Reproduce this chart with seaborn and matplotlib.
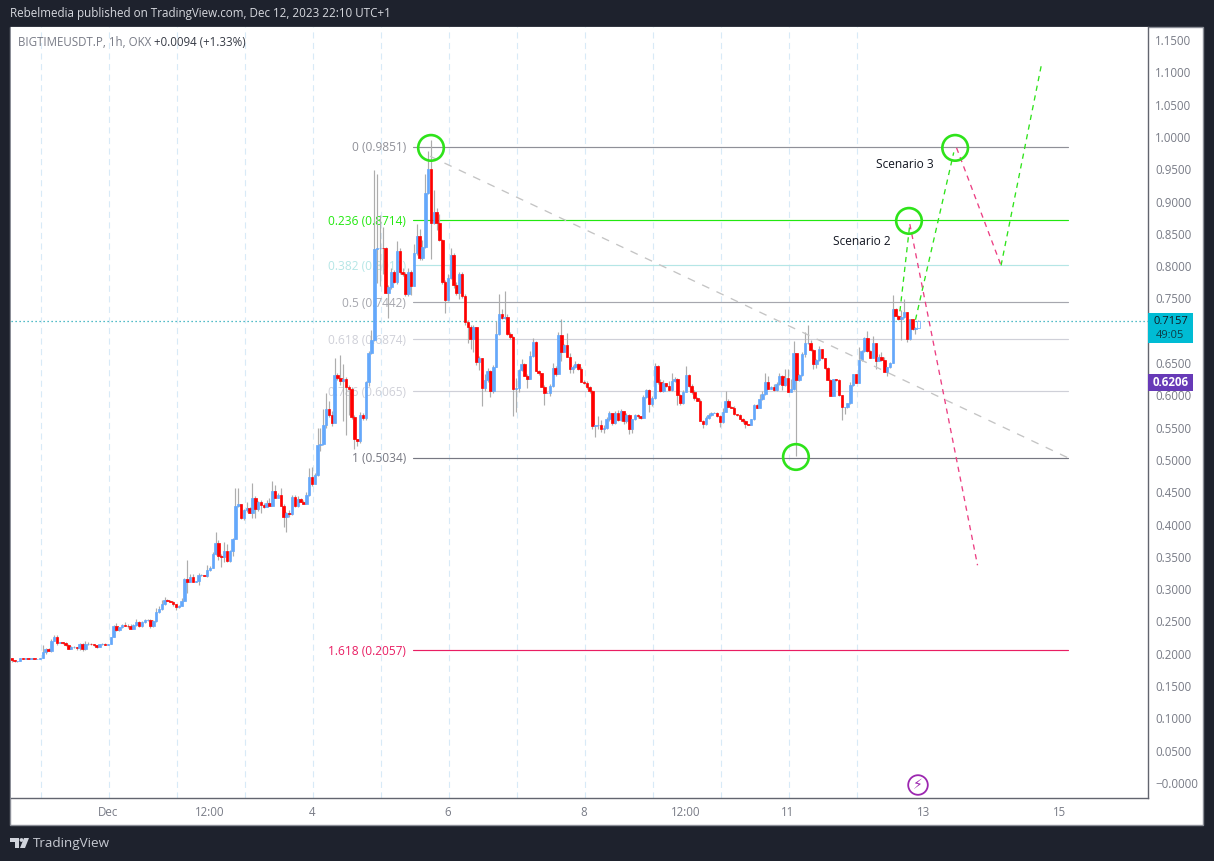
import numpy as np
import pandas as pd
import matplotlib
matplotlib.use("Agg")
import matplotlib.pyplot as plt
from matplotlib.patches import Rectangle, Ellipse, Polygon
import seaborn as sns

# ---- data (hourly candles; hour 0 = Dec 1 00:00) ----
first_hour = -34
first_open = 0.1930
closes_a = [.1909,.1889,.1894,.1930,.1925,.1930,.1925,.1930,.1915,.1920,.1930,
 .2033,.2074,.2043,.2193,.2260,.2172,.2178,.2167,.2136,.2080,.2100,.2100,.2095,.2152,.2074,.2152,.2157,.2147,.2131,.2111,.2147,.2152,.2142,.2147,
 .2255,.2431,.2369,.2410,.2446,.2436,.2425,.2389,.2441,.2492,.2431,.2487,.2523,.2523,.2431,.2503,.2647,.2694,.2766,.2833,.2823,.2807,.2766,.2725,.2745,.2812,.3158,.3117,
 .3189,.3117,.3122,.3215,.3215,.3210,.3297,.3333,.3545,.3715,.3519,.3499,.3592,.3437,.3592,.3777,.4288,.4319,.4107,.4221,.4252,.4185,.4412,.4242,.4350,.4298,.4278,.4335,.4293,.4520,.4417,.4458,.4293,.4118,.4175,.4164,.4427,.4288,.4396,.4355,.4324,.4464,.4737,.4634,.4763,.5232,.5248,.5542,.5790,.5692,.5578]
closes_b = [.6315,.6264,.6217,.6253,.6124,.6094,.5670,.5320,.5299,.5696,.5655,.6202,.6651,.6857,.8266,.8287,.8287,.8281,.7590,.7672,.7915,.7760,.8235,.7915,.7874,.7574,.7915,.7698,.8199,.8467,.8121,.8292,.9128,.9499,.8663,.8833,.8663,.8405,.7760,.7476,.7822,.8173,.7709,.7590,.7879,.7544,.7141,.7064,.6868,.7053,.6522,.6573,.6119,.6238,.6377,.6073,.6444,.6950,.7260,.7193,.7208,.6950,.6909]
closes_c = [.6094,.6115,.6393,.6486,.6306,.6259,.6610,.6832,.6383,.6342,.6135,.6043,.6043,.6146,.6424,.6337,.6935,.6677,.6780,.6600,.6404,.6435,.6486,.6404,.6213,.6187,.6135,.6068,.5532,.5537,.5537,.5485,.5496,.5635,.5723,.5573,.5723,.5619,.5753,.5609,.5697,.5480,.5630,.5697,.5676,.5656,.5975,.6084,.5872,.5955,.6455,.6213,.6068,.6187,.6146,.6084,.6223,.6254,.6006,.5883,.6058,.6316,.6146,.6058,.5965,.5919,.5609,.5558,.5645,.5692,.5733,.5733,.5681,.5588,.5748,.5913,.5826]
closes_d = [.5810,.5707,.5696,.5639,.5603,.5552,.5547,.5629,.5851,.5810,.5939,.6016,.6207,.6104,.6130,.6083,.6171,.6300,.6161,.6264,.6057,.6099,.6651,.6238,.6315,.6641,.6806,.6806,.6702,.6481,.6548,.6713,.6573,.6429,.6243,.5995,.6248,.6238,.6001,.5815,.5815,.5877,.6155,.6326,.6197,.6548,.6682,.6888,.6682,.6584,.6806,.6537,.6589,.6548,.6367,.6434,.6506,.7337,.7234,.7182,.7208,.7285,.6873,.7177,.7027,.7048,.7157]

# wick lengths in thousandths of a price unit
up_a = [0,0,0,1,0,0,0,1,0,0,0,
 11,2,1,3,3,3,1,1,1,2,2,2,1,2,1,4,2,1,1,1,1,1,2,1,
 0,1,4,1,2,4,3,3,2,5,2,2,2,2,2,2,6,5,6,4,1,1,1,1,1,5,1,30,
 4,4,1,4,2,1,8,2,3,17,5,3,14,11,2,2,28,24,0,2,9,2,23,3,2,3,4,5,8,16,10,3,11,2,2,5,3,3,5,2,3,4,14,15,3,26,25,25,25,12,6]
dn_a = [3,1,1,0,0,0,0,0,0,0,0,
 0,3,0,2,0,3,1,1,1,1,1,1,3,3,3,1,1,1,1,2,1,1,1,1,
 0,0,1,2,1,1,2,1,1,1,2,1,1,1,3,1,1,1,1,1,1,1,2,4,2,1,0,17,
 1,1,1,5,1,1,2,2,1,1,6,15,8,2,1,8,0,1,2,3,2,1,9,14,3,12,2,1,1,1,1,1,1,15,24,5,1,1,1,1,1,1,2,4,1,1,9,1,4,3,6]
up_b = [27,3,36,23,3,3,3,3,1,5,3,2,4,15,122,114,50,32,1,4,6,3,16,5,5,3,6,3,15,19,10,11,30,29,45,35,6,15,2,3,5,11,3,5,3,3,3,2,3,3,1,3,1,10,5,1,3,20,31,8,40,5,3]
dn_b = [1,3,5,62,74,40,3,15,8,3,3,3,5,1,1,52,60,40,1,40,3,2,3,3,3,3,3,15,1,3,2,2,1,1,55,1,10,1,3,20,2,2,5,3,10,3,5,25,15,20,5,13,28,5,3,10,3,1,1,1,1,1,3]
up_c = [1,15,2,8,1,3,8,5,1,1,1,3,1,3,8,3,5,25,1,18,5,3,4,1,3,3,3,1,1,1,14,8,5,3,3,1,3,5,4,1,3,1,1,1,2,1,3,1,1,3,5,1,4,5,1,8,12,3,1,1,3,14,1,3,2,1,2,1,4,4,1,1,1,1,6,15,3]
dn_c = [42,35,7,2,1,15,1,1,1,2,1,20,1,5,1,4,1,14,1,1,6,6,1,1,1,1,3,3,6,18,6,6,7,2,3,3,1,1,1,6,3,8,6,1,2,2,1,1,13,3,1,3,2,2,1,1,1,1,15,3,1,1,1,4,3,1,1,7,1,1,1,1,1,8,1,1,1]
up_d = [1,2,1,1,1,1,1,1,1,1,8,5,14,10,1,4,3,5,1,14,15,15,19,1,1,3,17,29,5,1,2,5,1,1,1,1,1,1,1,1,1,1,5,1,1,20,2,1,11,2,11,1,5,8,5,1,1,22,1,1,12,21,1,1,1,1,1]
dn_d = [1,1,1,1,3,5,1,1,1,1,1,1,1,1,1,1,1,1,8,1,1,0,1,117,1,1,5,1,1,8,6,1,1,2,1,1,1,1,1,20,11,1,1,1,1,1,1,1,1,1,1,13,1,1,1,7,1,1,1,1,32,1,4,1,1,8,0]

fib_levels = ["0", "0.236", "0.382", "0.5", "0.618", "0.786", "1", "1.618"]
fib_values = [0.9851, 0.8714, 0.8011, 0.7442, 0.6874, 0.6065, 0.5034, 0.2057]
fib_colors = ["#8f9098", "#22e80f", "#b5e6e6", "#a6a7ae", "#cfd0d8", "#cfd0d8", "#777882", "#e91e63"]
fib_start, fib_end = 107.6, 338.8
fib_label_hour = 105.2

trend_hours = [113.7, 338.8]
trend_prices = [0.9700, 0.5034]
scenario2_up_hours = [279.5, 283.0]
scenario2_up_prices = [0.7300, 0.8650]
scenario2_down_hours = [283.0, 306.9]
scenario2_down_prices = [0.8650, 0.3370]
scenario3_up_hours = [285.0, 298.5]
scenario3_up_prices = [0.7170, 0.9760]
scenario3_down_hours = [299.5, 315.2]
scenario3_down_prices = [0.9830, 0.8010]
scenario3_final_hours = [315.2, 329.6]
scenario3_final_prices = [0.8010, 1.1150]
circle_hours = [114.0, 282.7, 299.0, 242.8]
circle_prices = [0.9830, 0.8700, 0.9830, 0.5046]
last_price = 0.7157
purple_price = 0.6206
y_ticks = [round(i*0.05, 2) for i in range(24)]
x_tick_hours = [0, 36, 72, 120, 168, 204, 240, 288, 336]
x_tick_labels = ["Dec", "12:00", "4", "6", "8", "12:00", "11", "13", "15"]
grid_hours = list(range(-24, 265, 24))

# ---- assembling ----
closes = np.array(closes_a + closes_b + closes_c + closes_d)
opens = np.r_[first_open, closes[:-1]]
hours = np.arange(first_hour, first_hour + len(closes))
highs = np.maximum(opens, closes) + np.array(up_a + up_b + up_c + up_d) / 1000
lows = np.minimum(opens, closes) - np.array(dn_a + dn_b + dn_c + dn_d) / 1000
df = pd.DataFrame(dict(hour=hours, open=opens, close=closes, high=highs, low=lows))

sns.set_theme(style="white")
FONT = ["Open Sans", "DejaVu Sans"]
plt.rcParams["font.family"] = FONT
W, H = 1214, 861
DARK = "#1e222d"
GREY = "#787b86"
BLUE = "#64a8fb"
RED = "#ff0000"
GREEN = "#2ee31a"
PINK = "#ec3f83"

fig = plt.figure(figsize=(W/100, H/100), dpi=100, facecolor=DARK)
def fx(x): return x / W
def fy(y): return 1 - y / H
def frect(x0, y0, x1, y1, **kw):
    fig.add_artist(Rectangle((fx(x0), fy(y1)), (x1-x0)/W, (y1-y0)/H, transform=fig.transFigure, **kw))

frect(10, 27, 1203, 825, facecolor="white", edgecolor="#8b8e97", linewidth=1, zorder=-5)

ax = fig.add_axes([fx(10.5), fy(798), (1148-10.5)/W, (798-27)/H], zorder=0)
ax.set_facecolor("white")
ax.set_xlim((10.5-108)/2.8333, (1148-108)/2.8333)
ax.set_ylim((783-798)/646.1, (783-27)/646.1)
for s in ["top", "left"]:
    ax.spines[s].set_visible(False)
for s in ["right", "bottom"]:
    ax.spines[s].set_color("#62656f")
    ax.spines[s].set_linewidth(1)

# day grid (drawn a hair right of the hour as on the source)
for g in grid_hours:
    ax.axvline(g + 0.45, color="#d8eaf7", lw=0.8, ls=(0, (5.5, 4)), zorder=0)

# fib levels
for lev, val, col in zip(fib_levels, fib_values, fib_colors):
    ax.plot([fib_start, fib_end], [val, val], color=col, lw=0.85, zorder=1)
    ax.text(fib_label_hour, val - 0.0018, f"{lev} ({val:.4f})", color=col, fontsize=8.6,
            ha="right", va="center", zorder=1, fontweight="medium")

# last-price dotted line
ax.axhline(last_price, color="#1aa7b5", lw=0.9, ls=(0, (1, 2.2)), zorder=1)

# candles
up = df.close >= df.open
ax.vlines(df.hour, df.low, df.high, color="#adadad", lw=0.85, zorder=2)
colors = np.where(up, BLUE, RED)
bottoms = np.minimum(df.open, df.close)
heights = np.abs(df.close - df.open)
faces = list(colors)
faces[-1] = "white"
ax.bar(df.hour, heights, bottom=bottoms, width=0.86, color=faces, edgecolor=colors,
       linewidth=0.5, zorder=3)

# drawn paths
trend = pd.DataFrame(dict(h=trend_hours, p=trend_prices))
sns.lineplot(data=trend, x="h", y="p", ax=ax, color="#c4c4c4", lw=0.95, ls=(0, (6, 6)), zorder=4, estimator=None, sort=False)
for hs, ps, col in [(scenario2_up_hours, scenario2_up_prices, GREEN),
                    (scenario3_up_hours, scenario3_up_prices, GREEN),
                    (scenario3_final_hours, scenario3_final_prices, GREEN),
                    (scenario2_down_hours, scenario2_down_prices, PINK),
                    (scenario3_down_hours, scenario3_down_prices, PINK)]:
    path = pd.DataFrame(dict(h=hs, p=ps))
    sns.lineplot(data=path, x="h", y="p", ax=ax, color=col, lw=0.95, ls=(0, (4, 3.5)), zorder=5, estimator=None, sort=False)

circles = pd.DataFrame(dict(h=circle_hours, p=circle_prices))
sns.scatterplot(data=circles, x="h", y="p", ax=ax, s=340, facecolors="none", edgecolor=GREEN, linewidth=1.9, zorder=6)

ax.text(291.5, 0.9566, "Scenario 3", fontsize=8.6, color="#131722", ha="right", va="center", zorder=7)
ax.text(276.2, 0.8375, "Scenario 2", fontsize=8.6, color="#131722", ha="right", va="center", zorder=7)

# axes
ax.set_xlabel(""); ax.set_ylabel("")
ax.yaxis.tick_right()
ax.set_yticks(y_ticks)
# the 0.7000 label sits under the last-price tag on the source
ax.set_yticklabels([("\u22120.0000" if v == 0 else "" if v == 0.7 else f"{v:.4f}") for v in y_ticks], fontsize=8.3, color=GREY)
ax.tick_params(axis="y", length=0, pad=5)
ax.set_xticks(x_tick_hours)
ax.set_xticklabels(x_tick_labels, fontsize=8.3, color=GREY)
ax.tick_params(axis="x", length=0, pad=6)

# price tags
frect(1148, 313, 1192.7, 342.7, facecolor="#00bcd4", edgecolor="none", zorder=5)
fig.text(fx(1170.5), fy(321), f"{last_price:.4f}", fontsize=8.0, color="#131722", ha="center", va="center", zorder=6)
fig.text(fx(1170.5), fy(335), "49:05", fontsize=8.0, color="#0d3d47", ha="center", va="center", zorder=6)
frect(1148, 374, 1192.7, 391, facecolor="#673ab7", edgecolor="none", zorder=5)
fig.text(fx(1170.5), fy(382.7), f"{purple_price:.4f}", fontsize=8.3, color="white", ha="center", va="center", fontweight="bold", zorder=6)

# header
fig.text(fx(10), fy(13.5), "Rebelmedia published on TradingView.com, Dec 12, 2023 22:10 UTC+1",
         fontsize=8.4, color="#d6d8de", ha="left", va="center")
fig.text(fx(18), fy(42), "BIGTIMEUSDT.P, 1h, OKX", fontsize=8.3, color="#787b86", ha="left", va="center", zorder=6)
fig.text(fx(154), fy(42), "+0.0094 (+1.33%)", fontsize=8.3, color="#363a45", ha="left", va="center", zorder=6)

# footer logo
fig.add_artist(Polygon([(fx(10), fy(838)), (fx(19), fy(838)), (fx(19), fy(848)), (fx(15), fy(848)), (fx(15), fy(842)), (fx(10), fy(842))],
                       transform=fig.transFigure, facecolor="#d1d4dc", edgecolor="none"))
fig.add_artist(Ellipse((fx(21.5), fy(840)), 3.8/W, 3.8/H, transform=fig.transFigure, facecolor="#d1d4dc", edgecolor="none"))
fig.add_artist(Polygon([(fx(24), fy(838)), (fx(29), fy(838)), (fx(25), fy(848)), (fx(20), fy(848))],
                       transform=fig.transFigure, facecolor="#d1d4dc", edgecolor="none"))
fig.text(fx(33), fy(843.5), "TradingView", fontsize=9.7, color="#c7cad2", ha="left", va="center")

# event icon
fig.add_artist(Ellipse((fx(918), fy(785)), 19.6/W, 19.6/H, transform=fig.transFigure, facecolor="white", edgecolor="#9c27b0", linewidth=1.3, zorder=5))
fig.text(fx(918), fy(785), "\u26a1", fontsize=10, color="#9c27b0", ha="center", va="center", family="DejaVu Sans", zorder=6)

fig.savefig("out.png", dpi=100, facecolor=DARK)
